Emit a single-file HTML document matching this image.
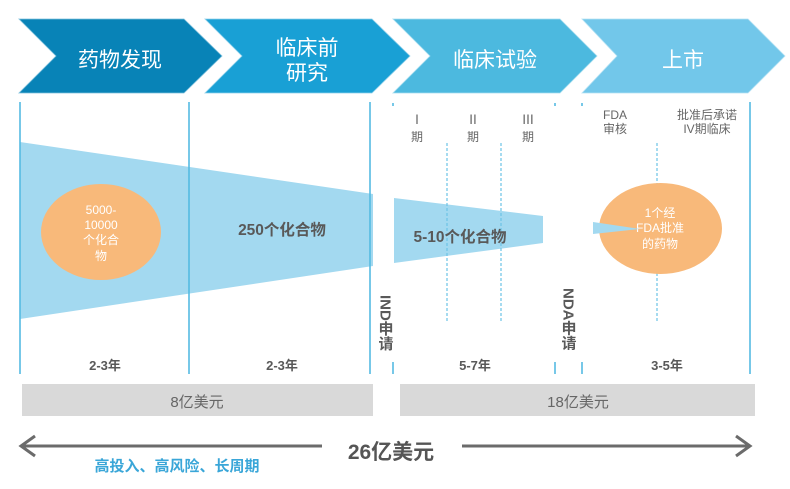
<!DOCTYPE html>
<html><head><meta charset="utf-8"><style>
html,body{margin:0;padding:0;background:#fff;}
svg{display:block;font-family:"Liberation Sans","Noto Sans CJK SC",sans-serif;}
</style></head><body>
<svg width="790" height="489" viewBox="0 0 790 489" xmlns="http://www.w3.org/2000/svg">
<!-- chevrons -->
<polygon points="19,19 184,19 222,56 184,93 19,93 56,56" fill="#0883b7" stroke="#7fc0dc" stroke-width="0.8"/>
<polygon points="205,19 372,19 410,56 372,93 205,93 242,56" fill="#19a0d5" stroke="#8fd0ea" stroke-width="0.8"/>
<polygon points="393,19 560,19 597,56 560,93 393,93 430,56" fill="#4cb9df" stroke="#a5dcef" stroke-width="0.8"/>
<polygon points="582,19 748,19 785,56 748,93 582,93 617,56" fill="#72c7ea" stroke="#b5e2f4" stroke-width="0.8"/>
<g fill="#fff" font-size="21" text-anchor="middle">
<text x="120" y="67">药物发现</text>
<text x="307" y="55">临床前</text>
<text x="307" y="80">研究</text>
<text x="495" y="67">临床试验</text>
<text x="683" y="67">上市</text>
</g>
<!-- wedges -->
<polygon points="20,142 373,194 373,266 20,319" fill="#a3d9f0"/>
<polygon points="394,198 543,216 543,243 394,263" fill="#a3d9f0"/>
<!-- solid lines -->
<g stroke="#55bbe2" stroke-width="1.6">
<line x1="20" y1="102" x2="20" y2="374"/>
<line x1="189" y1="102" x2="189" y2="374"/>
<line x1="370" y1="102" x2="370" y2="374"/>
<line x1="750" y1="102" x2="750" y2="374"/>
<line x1="393" y1="103" x2="393" y2="106"/>
<line x1="555" y1="103" x2="555" y2="106"/>
<line x1="582" y1="103" x2="582" y2="106"/>
<line x1="393" y1="362" x2="393" y2="374"/>
<line x1="555" y1="362" x2="555" y2="374"/>
<line x1="582" y1="362" x2="582" y2="374"/>
</g>
<g stroke="#6cc3e6" stroke-width="1.2" stroke-dasharray="3,2">
<line x1="447" y1="143" x2="447" y2="323"/>
<line x1="501" y1="143" x2="501" y2="323"/>
<line x1="657" y1="143" x2="657" y2="323"/>
</g>
<!-- ellipses -->
<ellipse cx="101" cy="232" rx="60" ry="48" fill="#f8b97a"/>
<ellipse cx="660.5" cy="228.5" rx="61.5" ry="45.5" fill="#f8b97a"/>
<g fill="#fff" font-size="12" text-anchor="middle">
<text x="101" y="214">5000-</text>
<text x="101" y="229">10000</text>
<text x="101" y="244">个化合</text>
<text x="101" y="260">物</text>
<text x="660" y="217">1个经</text>
<text x="660" y="232">FDA批准</text>
<text x="660" y="248">的药物</text>
</g>
<polygon points="593,222 640,229 593,234" fill="#a3d9f0"/>
<!-- bold labels -->
<g fill="#595959" font-weight="bold" text-anchor="middle">
<text x="282" y="235" font-size="15.5">250个化合物</text>
<text x="460" y="242" font-size="15.5">5-10个化合物</text>
<text x="105" y="370" font-size="13">2-3年</text>
<text x="282" y="370" font-size="13">2-3年</text>
<text x="475" y="370" font-size="13">5-7年</text>
<text x="667" y="370" font-size="13">3-5年</text>
</g>
<g fill="#595959" font-weight="bold" font-size="15">
<text x="385" y="295" style="writing-mode:vertical-rl;text-orientation:mixed;">IND申请</text>
<text x="568" y="288" style="writing-mode:vertical-rl;text-orientation:mixed;">NDA申请</text>
</g>
<!-- phase labels -->
<g fill="#666" font-size="12" text-anchor="middle">
<text x="417" y="124" font-size="13">Ⅰ</text>
<text x="417" y="141">期</text>
<text x="473" y="124" font-size="13">Ⅱ</text>
<text x="473" y="141">期</text>
<text x="528" y="124" font-size="13">Ⅲ</text>
<text x="528" y="141">期</text>
<text x="615" y="119">FDA</text>
<text x="615" y="133">审核</text>
<text x="707" y="119">批准后承诺</text>
<text x="707" y="133">IV期临床</text>
</g>
<!-- gray bars -->
<rect x="22" y="384" width="351" height="32" fill="#d9d9d9"/>
<rect x="400" y="384" width="355" height="32" fill="#d9d9d9"/>
<g fill="#666" font-size="15" text-anchor="middle">
<text x="197" y="407">8亿美元</text>
<text x="578" y="407">18亿美元</text>
</g>
<!-- arrows -->
<g stroke="#6b6b6b" stroke-width="3" fill="none">
<line x1="21" y1="446" x2="322" y2="446"/>
<polyline points="35,436 21,446 35,456"/>
<line x1="462" y1="446" x2="750" y2="446"/>
<polyline points="736,436 750,446 736,456"/>
</g>
<text x="391" y="459" fill="#555" font-size="21" font-weight="bold" text-anchor="middle">26亿美元</text>
<text x="177" y="471" fill="#3aa6d8" font-size="15" font-weight="bold" text-anchor="middle">高投入、高风险、长周期</text>
</svg>
</body></html>
